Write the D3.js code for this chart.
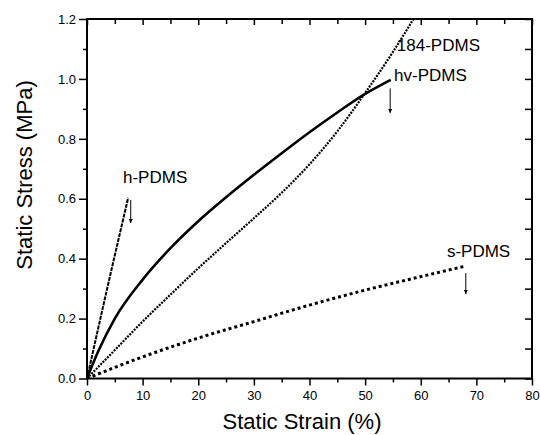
<!DOCTYPE html>
<html>
<head>
<meta charset="utf-8">
<script src="https://cdn.jsdelivr.net/npm/d3@7"></script>
<style>
  body { margin: 0; background: #fff; }
  text { font-family: Arial, "Liberation Sans", sans-serif; fill: #000; }
</style>
</head>
<body>
<div></div>
<script>
'use strict';

// Values (strain %, stress MPa)
var hStrain = [0, 3.5, 7.4];
var hStress = [0, 0.29, 0.603];

var hvStrain = [0, 2, 5, 10, 15, 20, 25, 30, 35, 40, 45, 50, 54.6];
var hvStress = [0, 0.09, 0.2, 0.33, 0.435, 0.525, 0.605, 0.68, 0.752, 0.822, 0.888, 0.95, 0.997];

var pdms184Strain = [0, 5, 10, 15, 20, 25, 30, 35, 40, 45, 50, 55, 60];
var pdms184Stress = [0, 0.095, 0.19, 0.28, 0.368, 0.452, 0.535, 0.62, 0.715, 0.825, 0.953, 1.09, 1.24];

var sStrain = [0, 5, 10, 20, 30, 40, 50, 60, 68];
var sStress = [0, 0.037, 0.072, 0.135, 0.19, 0.245, 0.295, 0.34, 0.375];

var xTicks = [0, 10, 20, 30, 40, 50, 60, 70, 80];
var yTicks = [0.0, 0.2, 0.4, 0.6, 0.8, 1.0, 1.2];

// label text, label position, arrow position (data units)
var labels = [
  ["h-PDMS", 6.47, 0.653],
  ["184-PDMS", 55.7, 1.093],
  ["hv-PDMS", 55.2, 0.993],
  ["s-PDMS", 64.7, 0.407]
];
var arrows = [
  [7.86, 0.596, 0.519],
  [54.5, 0.968, 0.886],
  [68.1, 0.352, 0.282]
];

var zip = function(xs, ys) {
  return xs.map(function(x, i) { return {strain: x, stress: ys[i]}; });
};

var svgWidth = 540;
var svgHeight = 435;
var margin = {top: 19, right: 8, bottom: 56.5, left: 87};
var chartWidth = svgWidth - margin.left - margin.right;
var chartHeight = svgHeight - margin.top - margin.bottom;

var xScale = d3.scaleLinear().domain([0, 80]).range([0, chartWidth]);
var yScale = d3.scaleLinear().domain([0, 1.2]).range([chartHeight, 0]);

var svg = d3.select("body").select("div")
  .append("svg")
    .attr("width", svgWidth)
    .attr("height", svgHeight);

var defs = svg.append("defs");
defs.append("clipPath").attr("id", "clip")
  .append("rect").attr("width", chartWidth).attr("height", chartHeight);
defs.append("marker")
    .attr("id", "head")
    .attr("viewBox", "0 0 10 10")
    .attr("refX", 10).attr("refY", 5)
    .attr("markerWidth", 4).attr("markerHeight", 5)
    .attr("markerUnits", "userSpaceOnUse")
    .attr("orient", "auto")
  .append("path").attr("d", "M0,0L10,5L0,10Z").attr("fill", "#000");

var chart = svg.append("g")
  .attr("transform", "translate(" + margin.left + "," + margin.top + ")");

// Axes: major + minor ticks on all four sides
var minorX = d3.range(5, 80, 10);
var minorY = d3.range(0.1, 1.2, 0.2);

var styleAxis = function(g) {
  g.select(".domain").remove();
  g.selectAll("line").attr("stroke", "#000").attr("stroke-width", 1.5);
  g.selectAll("text").attr("font-size", "13px");
};

chart.append("g")
    .attr("transform", "translate(0," + chartHeight + ")")
  .call(d3.axisBottom(xScale).tickValues(xTicks).tickSize(7).tickPadding(5).tickFormat(d3.format("d")))
  .call(styleAxis);
chart.append("g")
    .attr("transform", "translate(0," + chartHeight + ")")
  .call(d3.axisBottom(xScale).tickValues(minorX).tickSize(4).tickFormat(""))
  .call(styleAxis);

chart.append("g")
  .call(d3.axisLeft(yScale).tickValues(yTicks).tickSize(8).tickPadding(3).tickFormat(d3.format(".1f")))
  .call(styleAxis);
chart.append("g")
  .call(d3.axisLeft(yScale).tickValues(minorY).tickSize(4).tickFormat(""))
  .call(styleAxis);

chart.append("g")
  .call(d3.axisTop(xScale).tickValues(xTicks).tickSize(-6).tickFormat(""))
  .call(styleAxis);
chart.append("g")
  .call(d3.axisTop(xScale).tickValues(minorX).tickSize(-5).tickFormat(""))
  .call(styleAxis);

chart.append("g")
    .attr("transform", "translate(" + chartWidth + ",0)")
  .call(d3.axisRight(yScale).tickValues(yTicks).tickSize(-7).tickFormat(""))
  .call(styleAxis);
chart.append("g")
    .attr("transform", "translate(" + chartWidth + ",0)")
  .call(d3.axisRight(yScale).tickValues(minorY).tickSize(-7).tickFormat(""))
  .call(styleAxis);

chart.append("rect")
  .attr("width", chartWidth)
  .attr("height", chartHeight)
  .attr("fill", "none")
  .attr("stroke", "#000")
  .attr("stroke-width", 2);

// Axis titles
svg.append("text")
  .attr("x", 302)
  .attr("y", 429)
  .attr("text-anchor", "middle")
  .attr("font-size", "22px")
  .text("Static Strain (%)");

svg.append("text")
  .attr("transform", "translate(32,175) rotate(-90)")
  .attr("text-anchor", "middle")
  .attr("font-size", "22px")
  .text("Static Stress (MPa)");

// Curves
var line = d3.line()
  .curve(d3.curveMonotoneX)
  .x(function(d) { return xScale(d.strain); })
  .y(function(d) { return yScale(d.stress); });

var series = [
  [zip(hStrain, hStress), 2, "4,1"],
  [zip(hvStrain, hvStress), 2.6, null],
  [zip(pdms184Strain, pdms184Stress), 2.2, "2,1.2"],
  [zip(sStrain, sStress), 3, "3,3"]
];

var plot = chart.append("g").attr("clip-path", "url(#clip)");
plot.selectAll("path")
  .data(series)
  .enter().append("path")
  .attr("fill", "none")
  .attr("stroke", "#000")
  .attr("stroke-width", function(d) { return d[1]; })
  .attr("stroke-dasharray", function(d) { return d[2]; })
  .attr("d", function(d) { return line(d[0]); });

// Annotations
chart.selectAll("text.lab")
  .data(labels)
  .enter().append("text")
  .attr("class", "lab")
  .attr("x", function(d) { return xScale(d[1]); })
  .attr("y", function(d) { return yScale(d[2]); })
  .attr("font-size", "17px")
  .text(function(d) { return d[0]; });

chart.selectAll("line.arrow")
  .data(arrows)
  .enter().append("line")
  .attr("class", "arrow")
  .attr("x1", function(d) { return xScale(d[0]); })
  .attr("x2", function(d) { return xScale(d[0]); })
  .attr("y1", function(d) { return yScale(d[1]); })
  .attr("y2", function(d) { return yScale(d[2]); })
  .attr("stroke", "#000")
  .attr("stroke-width", 1)
  .attr("marker-end", "url(#head)");
</script>
</body>
</html>
